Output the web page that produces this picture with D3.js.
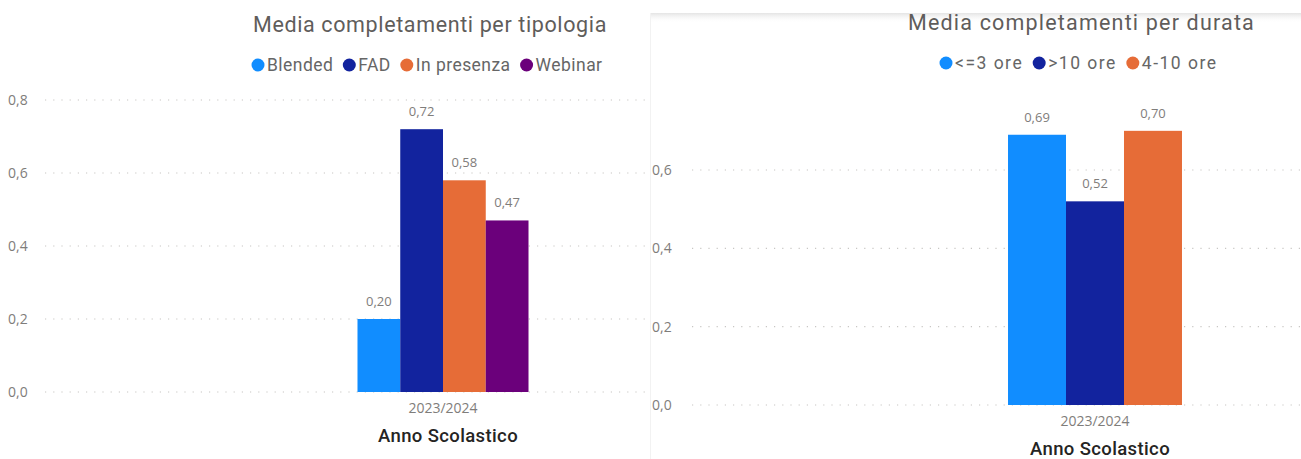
<!DOCTYPE html>
<html>
<head>
<meta charset="utf-8">
<script src="https://cdn.jsdelivr.net/npm/d3@7"></script>
<style>
  body { margin: 0; background: #fff; }
  svg { display: block; }
  .tick-lab { font-family: "Open Sans", "Noto Sans", sans-serif; font-size: 14px; fill: #7f7d7b; }
  .val-lab { font-family: "Open Sans", "Noto Sans", sans-serif; font-size: 13px; fill: #7f7d7b; }
  .leg-lab { font-family: Roboto, "Noto Sans", sans-serif; font-size: 17.5px; fill: #666; }
  .title { font-family: Roboto, "Noto Sans", sans-serif; fill: #5f5d5b; font-size: 21.5px; }
  .ax-title { font-family: Roboto, "Noto Sans", sans-serif; fill: #252423; font-size: 18.5px; font-weight: 500; }
</style>
</head>
<body>
<svg id="chart" width="1301" height="459"></svg>
<script>
  'use strict'
  // data
  let anni = ["2023/2024"]
  let tipologie = ["Blended", "FAD", "In presenza", "Webinar"]
  let valoriTipologia = [0.20, 0.72, 0.58, 0.47]
  let durate = ["<=3 ore", ">10 ore", "4-10 ore"]
  let valoriDurata = [0.69, 0.52, 0.70]
  let coloriTipologia = ["#118DFF", "#12239E", "#E66C37", "#6B007B"]
  let coloriDurata = ["#118DFF", "#12239E", "#E66C37"]
  let ticksLeft = [0, 0.2, 0.4, 0.6, 0.8]
  let ticksRight = [0, 0.2, 0.4, 0.6]

  let fmt = d3.format(".2f")
  let fmtTick = d3.format(".1f")
  let comma = s => s.replace(".", ",")

  let svg = d3.select("#chart")
  let defs = svg.append("defs")
  let grad = defs.append("linearGradient").attr("id", "shade").attr("x1", 0).attr("x2", 0).attr("y1", 0).attr("y2", 1)
  grad.append("stop").attr("offset", "0%").attr("stop-color", "#e4e4e4")
  grad.append("stop").attr("offset", "100%").attr("stop-color", "#ffffff").attr("stop-opacity", 0)

  // stretch a text with letter spacing so it fills a given width
  function fitWidth(sel, target) {
    let n = sel.text().length
    let w = sel.node().getComputedTextLength()
    sel.style("letter-spacing", ((target - w) / n) + "px")
  }

  function drawPanel(opt) {
    let g = svg.append("g")

    g.append("rect").attr("x", opt.x0).attr("y", 0)
      .attr("width", opt.x1 - opt.x0).attr("height", 459).attr("fill", "#fff")

    if (opt.shade) {
      g.append("rect").attr("x", opt.x0).attr("y", 13).attr("width", opt.x1 - opt.x0).attr("height", 10).attr("fill", "url(#shade)")
      g.append("line").attr("x1", opt.x0 + 0.5).attr("x2", opt.x0 + 0.5).attr("y1", 13).attr("y2", 459)
        .attr("stroke", "#f2f2f2").attr("stroke-width", 1)
    }

    let y = d3.scaleLinear().domain([0, opt.yTop]).range([opt.y0, opt.yTopPx])
    let x = d3.scaleBand().domain(anni).range(opt.xRange).paddingInner(0).paddingOuter(opt.pad)
    let xs = d3.scaleBand().domain(opt.cats).range([0, x.bandwidth()]).padding(0)

    // gridlines
    g.append("g").selectAll("line").data(opt.ticks).enter().append("line")
      .attr("x1", opt.gridX0).attr("x2", opt.x1)
      .attr("y1", d => y(d)).attr("y2", d => y(d))
      .attr("stroke", "#c8c6c4").attr("stroke-width", 1.2)
      .attr("stroke-dasharray", "1.2,7")

    // y tick labels
    g.append("g").selectAll("text").data(opt.ticks).enter().append("text")
      .attr("class", "tick-lab")
      .attr("x", opt.yLabX).attr("y", d => y(d) + 5)
      .text(d => comma(fmtTick(d)))

    // bars
    let grp = g.append("g").attr("transform", "translate(" + x(anni[0]) + ",0)")
    grp.selectAll("rect").data(opt.vals).enter().append("rect")
      .attr("x", (d, i) => xs(opt.cats[i]))
      .attr("width", xs.bandwidth())
      .attr("y", d => y(d))
      .attr("height", d => y(0) - y(d))
      .attr("fill", (d, i) => opt.colors[i])

    grp.selectAll(".val-lab").data(opt.vals).enter().append("text")
      .attr("class", "val-lab")
      .attr("text-anchor", "middle")
      .attr("x", (d, i) => xs(opt.cats[i]) + xs.bandwidth() / 2)
      .attr("y", d => y(d) - 13)
      .text(d => comma(fmt(d)))

    // x axis
    let cx = x(anni[0]) + x.bandwidth() / 2
    g.append("text").attr("class", "tick-lab").attr("text-anchor", "middle")
      .attr("x", cx).attr("y", y(0) + 21).text(anni[0])
    let at = g.append("text").attr("class", "ax-title").attr("text-anchor", "start")
      .attr("y", y(0) + 50).text("Anno Scolastico")
    fitWidth(at, 140)
    at.attr("x", cx + 5 - 70)

    // title
    let t = g.append("text").attr("class", "title").attr("text-anchor", "start")
      .attr("x", opt.titleX0).attr("y", opt.titleY).text(opt.title)
    fitWidth(t, opt.titleW)

    // legend
    let leg = g.append("g")
    let labs = []
    opt.cats.forEach(function(c, i) {
      labs.push(leg.append("text").attr("class", "leg-lab").attr("y", 6).text(c))
    })
    let natural = d3.sum(labs, l => l.node().getComputedTextLength())
    let chars = d3.sum(opt.cats, c => c.length)
    let fixed = opt.cats.length * 15.5 + (opt.cats.length - 1) * 9.5
    let ls = (opt.legW - fixed - natural) / chars
    let xpos = 0
    labs.forEach(function(l, i) {
      leg.append("circle").attr("cx", xpos + 6.5).attr("cy", 0).attr("r", 6.5).attr("fill", opt.colors[i])
      l.style("letter-spacing", ls + "px").attr("x", xpos + 15.5)
      xpos += 15.5 + l.node().getComputedTextLength() + 9.5
    })
    leg.attr("transform", "translate(" + opt.legX0 + "," + opt.legY + ")")
    return g
  }

  drawPanel({
    x0: 0, x1: 650, xRange: [43, 843], pad: 1.839,
    y0: 392, yTop: 0.8, yTopPx: 100, ticks: ticksLeft,
    gridX0: 45, yLabX: 8,
    cats: tipologie, vals: valoriTipologia, colors: coloriTipologia,
    title: "Media completamenti per tipologia", titleX0: 253, titleW: 354, titleY: 32,
    legX0: 251.5, legW: 351, legY: 65
  })

  drawPanel({
    x0: 650, x1: 1301, xRange: [690, 1500], pad: 1.828, shade: true,
    y0: 405, yTop: 0.6, yTopPx: 170, ticks: ticksRight,
    gridX0: 692, yLabX: 652,
    cats: durate, vals: valoriDurata, colors: coloriDurata,
    title: "Media completamenti per durata", titleX0: 908, titleW: 347, titleY: 30,
    legX0: 939.5, legW: 278, legY: 63
  })
</script>
</body>
</html>
